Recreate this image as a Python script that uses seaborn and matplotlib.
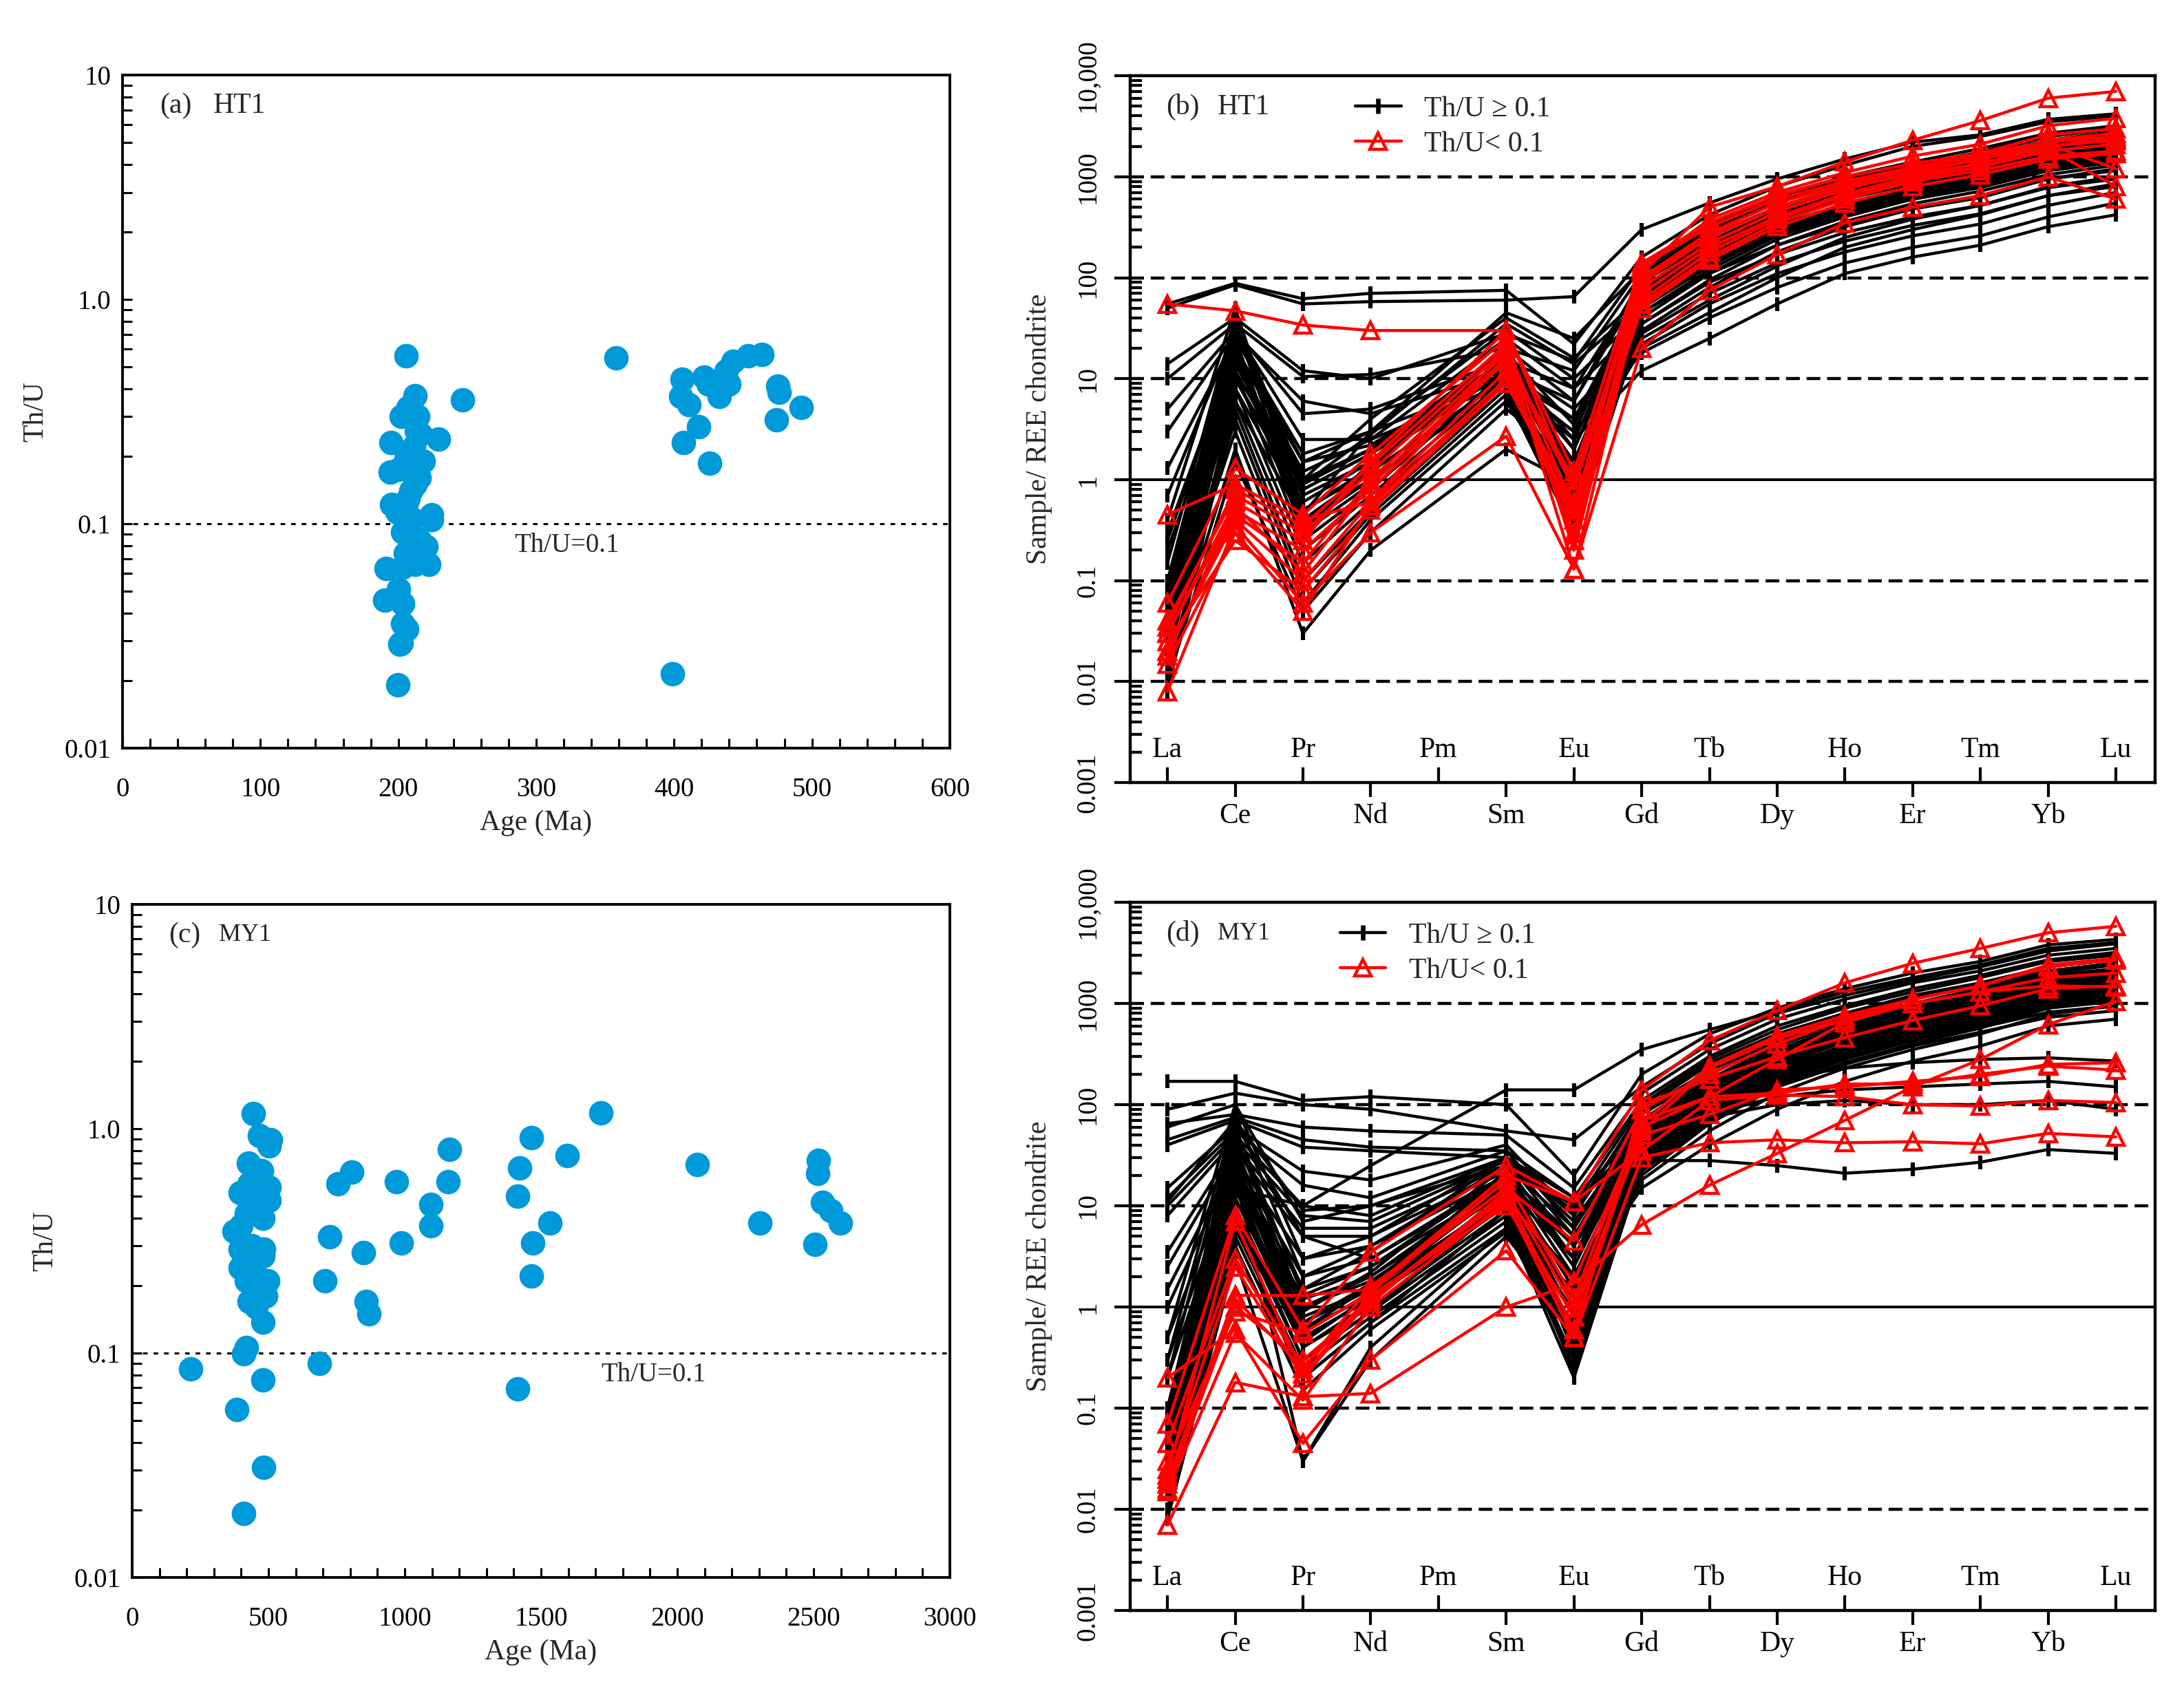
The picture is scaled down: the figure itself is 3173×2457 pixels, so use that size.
import numpy as np
import pandas as pd
import matplotlib
matplotlib.use("Agg")
import matplotlib.pyplot as plt
import seaborn as sns
from matplotlib.lines import Line2D
from matplotlib.ticker import FixedLocator, LogLocator, NullFormatter

# ---------------- data ----------------
# (a) HT1: U-Pb age vs Th/U
ht1_age = [205.5, 358, 246.5, 229, 212, 207, 202, 214, 209, 194.5, 213, 205.5, 208, 194,
           215, 200, 197, 195, 207, 209, 224, 224, 204, 199, 203, 208, 220, 205, 212, 222,
           191, 203, 200, 190, 203, 203, 206, 202, 201, 199.5, 399, 210, 212, 206, 210,
           215, 217, 211, 216, 218,
           406, 404.6, 411, 422, 425, 433, 440, 438, 442.6, 454, 464, 475, 476, 474, 492,
           418, 407, 426]
ht1_thu = [0.56, 0.55, 0.357, 0.239, 0.372, 0.33, 0.30, 0.30, 0.32, 0.23, 0.26, 0.195, 0.18,
           0.17, 0.16, 0.175, 0.12, 0.122, 0.13, 0.14, 0.11, 0.104, 0.11, 0.113, 0.092, 0.09,
           0.079, 0.074, 0.066, 0.066, 0.063, 0.064, 0.051, 0.0455, 0.044, 0.036, 0.034,
           0.0295, 0.029, 0.0192, 0.0214, 0.20, 0.15, 0.125, 0.105, 0.085, 0.07, 0.22, 0.25,
           0.19,
           0.44, 0.37, 0.34, 0.45, 0.42, 0.37, 0.42, 0.48, 0.53, 0.56, 0.57, 0.41, 0.385, 0.29,
           0.33, 0.27, 0.23, 0.186]

# (c) MY1: U-Pb age vs Th/U
my1_age = [215, 383, 409, 483, 479, 409, 420, 444, 467, 507, 502, 427, 474, 397, 430, 502,
           467, 502, 420, 479, 450, 374, 400, 397, 483, 440, 479, 397, 450, 420, 497, 455,
           430, 490, 455, 479,
           686, 707, 726, 754, 805, 848, 859, 869, 969, 988, 1095, 1095, 1160, 1165, 1413,
           1415, 1422, 1464, 1469, 1466, 1534, 1595, 1721, 2073, 2302, 2505, 2519, 2515,
           2533, 2564, 2599]
my1_thu = [0.085, 0.056, 0.0193, 0.031, 0.076, 0.099, 0.106, 1.17, 0.93, 0.89, 0.84, 0.70,
           0.65, 0.52, 0.57, 0.55, 0.50, 0.48, 0.42, 0.40, 0.45, 0.35, 0.37, 0.29, 0.29, 0.30,
           0.27, 0.24, 0.25, 0.21, 0.21, 0.20, 0.17, 0.18, 0.16, 0.137,
           0.090, 0.21, 0.33, 0.57, 0.64, 0.28, 0.17, 0.15, 0.58, 0.31, 0.46, 0.37, 0.58,
           0.81, 0.069, 0.50, 0.67, 0.91, 0.31, 0.22, 0.38, 0.76, 1.18, 0.69, 0.38, 0.305,
           0.72, 0.63, 0.47, 0.43, 0.38]

# REE chondrite-normalised patterns (Pm not measured)
ELEMENTS = ['La', 'Ce', 'Pr', 'Nd', 'Pm', 'Sm', 'Eu', 'Gd', 'Tb', 'Dy', 'Ho', 'Er', 'Tm', 'Yb', 'Lu']
MEASURED = [e for e in ELEMENTS if e != 'Pm']

#            La     Ce   Pr    Nd   Sm   Eu    Gd   Tb   Dy    Ho    Er    Tm    Yb    Lu
ht1_black = [
    [50,     85,  55,   58,  60,  65,   300, 550, 950, 1500, 2200, 2600, 3700, 4200],
    [55,     88,  62,   70,  75,  22,   160, 420, 800, 1300, 2000, 2500, 3500, 4000],
    [14,     40,  12,   10,  28,  15,   130, 330, 650, 1000, 1400, 1900, 2700, 3200],
    [10,     35,  10.5, 11,  20,  12,   110, 280, 560, 900,  1300, 1700, 2500, 3000],
    [5,      30,  4.5,  5,   15,  8,    90,  250, 500, 800,  1200, 1600, 2300, 2800],
    [3,      28,  6,    4.5, 12,  6,    80,  220, 450, 750,  1100, 1500, 2100, 2600],
    [1.3,    25,  1.8,  3,   10,  4,    70,  200, 420, 700,  1000, 1400, 2000, 2400],
    [0.7,    30,  2.5,  2.5, 9,   3,    65,  180, 380, 650,  950,  1300, 1900, 2300],
    [0.3,    20,  1.5,  2.2, 14,  2.5,  60,  170, 360, 600,  900,  1200, 1800, 2100],
    [0.2,    15,  1.0,  2.0, 18,  3.5,  75,  200, 400, 650,  950,  1250, 1800, 2200],
    [0.1,    12,  0.8,  1.8, 16,  2.0,  70,  190, 390, 640,  920,  1220, 1750, 2100],
    [0.08,   10,  0.6,  1.5, 14,  1.5,  65,  180, 370, 610,  880,  1180, 1700, 2000],
    [0.05,   45,  0.5,  1.3, 20,  1.2,  80,  210, 420, 700,  1000, 1350, 1900, 2300],
    [0.04,   35,  0.4,  1.2, 22,  1.0,  90,  230, 460, 740,  1050, 1400, 2000, 2400],
    [0.03,   25,  0.35, 1.0, 18,  0.8,  75,  190, 380, 600,  850,  1100, 1600, 1900],
    [0.02,   18,  0.3,  0.9, 15,  0.7,  60,  160, 330, 540,  780,  1000, 1500, 1800],
    [0.015,  12,  0.25, 0.8, 12,  0.6,  55,  150, 300, 500,  720,  950,  1400, 1700],
    [0.01,   8,   0.2,  0.7, 10,  0.5,  50,  130, 280, 470,  680,  900,  1300, 1600],
    [0.008,  6,   0.15, 0.6, 9,   0.4,  45,  120, 260, 440,  640,  850,  1250, 1500],
    [0.012,  5,   0.1,  0.5, 8,   0.35, 40,  110, 240, 400,  600,  800,  1150, 1400],
    [0.02,   4,   0.08, 0.45, 7,  0.3,  35,  95,  210, 360,  540,  720,  1050, 1300],
    [0.03,   3,   0.06, 0.4, 6,   0.5,  30,  80,  180, 320,  480,  650,  950,  1150],
    [0.015,  2,   0.03, 0.2, 2.0, 0.9,  25,  60,  130, 250,  380,  520,  780,  950],
    [0.01,   1.5, 0.05, 0.3, 5,   1.5,  20,  45,  100, 200,  300,  420,  650,  800],
    [0.02,   6,   0.4,  1.0, 9,   2.5,  12,  25,  55,  110,  160,  210,  320,  420],
    [0.03,   8,   0.5,  1.2, 10,  3,    18,  40,  80,  140,  200,  260,  400,  550],
    [0.04,   10,  0.7,  1.5, 12,  4,    22,  55,  110, 180,  260,  340,  520,  700],
    [0.05,   14,  0.9,  2.0, 14,  5,    28,  70,  140, 230,  330,  430,  650,  850],
    [0.06,   20,  1.2,  2.5, 25,  8,    35,  90,  170, 280,  400,  520,  800,  1000],
    [0.08,   28,  1.5,  3.0, 30,  10,   45,  110, 210, 340,  480,  620,  950,  1200],
    [0.1,    35,  0.9,  2.8, 35,  14,   55,  140, 260, 420,  600,  780,  1150, 1400],
    [0.15,   40,  1.0,  4.0, 40,  16,   65,  170, 320, 520,  750,  950,  1400, 1700],
    [0.25,   22,  0.3,  1.5, 20,  6,    100, 260, 500, 800,  1150, 1500, 2100, 2600],
    [0.4,    50,  0.45, 3.0, 45,  25,   120, 300, 600, 950,  1300, 1750, 2600, 3000],
    [0.05,   30,  0.8,  1.8, 12,  2,    60,  150, 300, 480,  700,  900,  1300, 1550],
    [0.02,   20,  0.5,  1.2, 10,  1.5,  50,  140, 280, 450,  650,  850,  1200, 1450],
]
ht1_red = [
    [55,     47,  34,   30,  30,  0.8,  120, 380, 700, 1100, 1600, 2100, 3200, 3800],
    [0.45,   0.9, 0.4,  0.6, 20,  0.3,  110, 500, 800, 1400, 2300, 3600, 6000, 7000],
    [0.06,   1.3, 0.45, 1.8, 25,  0.2,  90,  250, 500, 800,  1200, 1700, 2600, 3000],
    [0.04,   0.7, 0.3,  1.2, 20,  0.13, 80,  220, 450, 750,  1100, 1500, 2300, 2700],
    [0.03,   0.5, 0.2,  0.8, 15,  0.25, 70,  200, 400, 680,  1000, 1350, 2000, 2400],
    [0.02,   0.4, 0.1,  0.6, 12,  0.4,  60,  180, 380, 650,  950,  1250, 1800, 2100],
    [0.015,  0.3, 0.05, 0.55, 10, 0.6,  55,  160, 350, 600,  900,  1150, 1600, 1800],
    [0.025,  0.25, 0.08, 0.5, 9,  0.5,  50,  150, 320, 550,  800,  1050, 1500, 1700],
    [0.008,  0.35, 0.06, 0.3, 2.7, 0.13, 20, 75,  170, 350,  500,  650,  1000, 600],
    [0.03,   0.6, 0.25, 1.5, 30,  1.2,  140, 350, 650, 1000, 1350, 1700, 2200, 2500],
    [0.02,   0.45, 0.15, 1.0, 18, 0.8,  100, 280, 550, 850,  1150, 1500, 2000, 2300],
    [0.035,  0.8, 0.35, 1.4, 22,  0.5,  130, 320, 600, 900,  1250, 1600, 2100, 1200],
    [0.018,  0.55, 0.12, 0.9, 16, 1.0,  95,  260, 500, 780,  1050, 1350, 1900, 800],
]

my1_black = [
    [170,    170, 110,  120, 100, 20,   200, 500, 900, 1400, 2000, 2600, 3800, 4300],
    [90,     130, 100,  90,  55,  45,   150, 400, 800, 1200, 1700, 2300, 3300, 3900],
    [65,     80,  60,   55,  50,  15,   130, 350, 700, 1100, 1600, 2100, 3000, 3500],
    [45,     75,  45,   38,  35,  12,   110, 300, 600, 950,  1400, 1900, 2700, 3200],
    [40,     70,  38,   35,  30,  10,   100, 280, 550, 900,  1300, 1800, 2600, 3000],
    [15,     60,  22,   18,  40,  8,    90,  250, 500, 800,  1200, 1600, 2300, 2700],
    [12,     55,  16,   12,  35,  6,    80,  220, 450, 750,  1100, 1500, 2100, 2500],
    [10,     50,  10,   8,   30,  5,    70,  200, 420, 700,  1000, 1400, 2000, 2400],
    [8,      45,  8,    7,   28,  4,    65,  180, 380, 640,  950,  1300, 1900, 2200],
    [3.5,    40,  6,    6,   25,  3,    60,  170, 350, 600,  900,  1200, 1800, 2100],
    [2.5,    35,  5,    5,   22,  2.5,  55,  160, 330, 560,  850,  1150, 1700, 2000],
    [1.5,    30,  3,    4,   20,  2,    50,  150, 310, 530,  800,  1100, 1600, 1900],
    [1.0,    28,  2,    3,   18,  1.5,  45,  140, 290, 500,  760,  1050, 1500, 1800],
    [0.5,    25,  1.5,  2.5, 16,  1.2,  42,  130, 270, 470,  720,  1000, 1450, 1700],
    [0.3,    22,  1.2,  2,   15,  1.0,  40,  120, 250, 440,  680,  950,  1400, 1650],
    [0.2,    20,  1.0,  1.8, 14,  0.8,  38,  110, 240, 420,  650,  900,  1350, 1600],
    [0.1,    18,  0.8,  1.5, 12,  0.6,  35,  100, 220, 390,  600,  850,  1250, 1500],
    [0.08,   15,  0.6,  1.3, 11,  0.5,  33,  95,  210, 370,  570,  800,  1200, 1450],
    [0.05,   12,  0.5,  1.2, 10,  0.4,  30,  90,  200, 350,  540,  760,  1150, 1400],
    [0.04,   10,  0.4,  1.0, 9,   0.3,  28,  85,  190, 330,  510,  720,  1100, 1350],
    [0.03,   8,   0.3,  0.9, 8,   0.25, 26,  80,  180, 310,  480,  680,  1050, 1300],
    [0.02,   6,   0.25, 0.8, 7,   0.2,  24,  75,  170, 290,  450,  640,  1000, 1250],
    [0.015,  5,   0.2,  0.7, 6,   0.3,  22,  70,  160, 280,  430,  610,  950,  1200],
    [0.01,   4,   0.15, 0.6, 5.5, 0.5,  20,  65,  150, 260,  400,  570,  900,  1100],
    [0.02,   20,  0.03, 0.3, 5,   0.7,  18,  55,  130, 230,  350,  500,  780,  950],
    [0.03,   30,  0.5,  1.2, 12,  2,    28,  28,  25,  21,   23,   27,   36,   33],
    [0.05,   40,  0.7,  1.5, 15,  3,    40,  80,  120, 140,  150,  160,  170,  150],
    [0.08,   50,  1.0,  2.0, 18,  4,    45,  75,  100, 110,  100,  100,  110,  90],
    [0.1,    60,  1.3,  2.5, 20,  5,    60,  110, 180, 230,  260,  280,  290,  270],
    [0.04,   35,  0.9,  2.2, 25,  6,    70,  180, 350, 550,  800,  1050, 1400, 1600],
    [0.06,   45,  1.5,  3.5, 30,  8,    85,  220, 430, 680,  980,  1300, 1800, 2100],
    [0.03,   25,  0.6,  1.6, 22,  4,    60,  160, 320, 500,  720,  950,  1300, 1500],
    [0.02,   15,  0.4,  1.1, 14,  1.8,  35,  95,  200, 340,  500,  680,  950,  1100],
    [0.015,  10,  0.3,  0.9, 11,  1.2,  30,  80,  170, 290,  430,  580,  820,  950],
    [0.01,   7,   0.2,  0.7, 9,   0.9,  25,  70,  150, 250,  380,  520,  730,  850],
    [0.025,  18,  0.45, 1.3, 13,  0.22, 32,  90,  190, 320,  480,  650,  900,  1050],
    [0.04,   22,  0.55, 1.4, 16,  0.35, 38,  100, 210, 350,  520,  700,  960,  1100],
    [0.06,   28,  0.7,  1.7, 19,  0.45, 42,  110, 230, 380,  560,  740,  1000, 1150],
    [0.3,    80,  2,    4,   25,  10,   50,  130, 260, 420,  600,  800,  1100, 1250],
    [0.5,    100, 3,    5,   30,  12,   55,  140, 280, 450,  640,  850,  1150, 1300],
    [0.2,    65,  5,    3,   20,  3,    100, 260, 500, 800,  1150, 1500, 2100, 2500],
    [60,     100, 7,    10,  25,  9,    80,  200, 400, 650,  950,  1250, 1700, 2000],
    [11,     70,  9,    10,  30,  7,    60,  150, 300, 500,  720,  950,  1300, 1500],
    [0.05,   15,  10,   25,  140, 140,  350, 550, 850, 1300, 1800, 2400, 3500, 4000],
    [0.008,  3,   0.03, 0.4, 6,   1.5,  15,  40,  90,  170,  270,  380,  600,  700],
]
my1_red = [
    [0.007,  0.18, 0.13, 0.14, 1.0, 1.7, 6.5, 16,  33,  70,   150,  280,  620,  1050],
    [0.2,    0.6, 0.045, 0.3, 3.6, 0.5,  30,  42,  45,  42,   43,   41,   52,   48],
    [0.07,   8,   0.6,  3.5, 25,  11,   140, 430, 850, 1600, 2500, 3500, 5000, 5800],
    [0.045,  3,   0.25, 1.6, 15,  4.5,  90,  200, 400, 700,  1100, 1500, 2400, 2800],
    [0.025,  2.5, 0.2,  1.2, 12,  1.8,  60,  120, 280, 650,  1000, 1300, 1800, 2000],
    [0.018,  1.3, 1.3,  1.5, 20,  11,   35,  110, 125, 120,  100,  97,   110,  105],
    [0.016,  1.0, 0.3,  1.1, 14,  1.0,  50,  80,  140, 150,  170,  190,  250,  260],
    [0.03,   0.9, 0.55, 1.4, 18,  1.2,  70,  120, 130, 160,  160,  200,  240,  220],
    [0.02,   1.2, 0.25, 1.3, 10,  0.8,  55,  230, 450, 700,  1000, 1300, 1500, 1450],
    [0.015,  0.55, 0.12, 1.0, 11, 0.5,  100, 180, 300, 460,  680,  950,  1400, 1500],
    [0.022,  7,   0.22, 1.2, 13,  0.6,  65,  240, 480, 760,  1100, 1500, 2300, 2700],
]

POS = {el: i for i, el in enumerate(ELEMENTS)}
LOWER = ELEMENTS[1::2]   # Ce, Nd, Sm ... labelled below the axis
UPPER = ELEMENTS[0::2]   # La, Pr, Pm ... labelled inside the axis

BLUE = "#0099d9"


def to_long(rows):
    recs = []
    for i, row in enumerate(rows):
        for el, v in zip(MEASURED, row):
            recs.append((i, POS[el], v))
    return pd.DataFrame(recs, columns=["sample", "pos", "value"])


sns.set_style("ticks")
plt.rcParams["font.family"] = ["Liberation Serif", "DejaVu Serif"]
plt.rcParams["axes.edgecolor"] = "black"
plt.rcParams["xtick.color"] = "black"
plt.rcParams["ytick.color"] = "black"

fig = plt.figure(figsize=(15.865, 12.285), dpi=200)
ax_a = fig.add_axes([0.0561, 0.5576, 0.3788, 0.3980])
ax_c = fig.add_axes([0.0605, 0.0672, 0.3744, 0.3980])
ax_b = fig.add_axes([0.5175, 0.5372, 0.4693, 0.4180])
ax_d = fig.add_axes([0.5175, 0.0476, 0.4693, 0.4188])


def age_panel(ax, age, thu, xmax, major, minor, tag, site, site_x, note_x):
    ax.axhline(0.1, color="black", lw=1.1, ls=(0, (2.2, 2.8)), zorder=1)
    sns.scatterplot(x=age, y=thu, ax=ax, color=BLUE, s=165, linewidth=0, zorder=3)
    ax.set_yscale("log")
    ax.set_ylim(0.01, 10)
    ax.set_xlim(0, xmax)
    ax.set_yticks([0.01, 0.1, 1, 10], ["0.01", "0.1", "1.0", "10"])
    ax.yaxis.set_minor_locator(LogLocator(base=10, subs=np.arange(2, 10), numticks=10))
    ax.yaxis.set_minor_formatter(NullFormatter())
    ax.set_xticks(np.arange(0, xmax + 1, major))
    ax.xaxis.set_minor_locator(FixedLocator(np.arange(0, xmax + 1, minor)))
    ax.tick_params(which="both", direction="in", top=False, right=False,
                   width=1.1, length=5, labelsize=14)
    ax.tick_params(axis="x", pad=15)
    ax.tick_params(axis="y", pad=6)
    ax.set_xlabel("Age (Ma)", fontsize=15, labelpad=4)
    ax.set_ylabel("Th/U", fontsize=15, labelpad=8)
    for sp in ax.spines.values():
        sp.set_linewidth(1.4)
    ax.text(0.045, 0.954, tag, transform=ax.transAxes, fontsize=15, va="center")
    ax.text(site_x, 0.954, site, transform=ax.transAxes, fontsize=15 if site == "HT1" else 13,
            va="center", family=["Liberation Sans Narrow", "Liberation Serif"])
    ax.text(note_x, 0.08, "Th/U=0.1", fontsize=14, va="center")


def ree_panel(ax, black_rows, red_rows, tag, site, site_x, leg_x):
    for v in [0.01, 0.1, 10, 100, 1000]:
        ax.axhline(v, color="black", lw=1.6, ls=(0, (4.5, 2.2)), zorder=1)
    ax.axhline(1, color="black", lw=1.4, zorder=1)
    sns.lineplot(data=to_long(black_rows), x="pos", y="value", units="sample",
                 estimator=None, color="black", linewidth=1.6, marker="|",
                 markersize=7, markeredgewidth=2.2, markeredgecolor="black",
                 ax=ax, legend=False, zorder=2)
    sns.lineplot(data=to_long(red_rows), x="pos", y="value", units="sample",
                 estimator=None, color="red", linewidth=1.6, marker="^",
                 markersize=8.5, markeredgewidth=1.6, markeredgecolor="red",
                 markerfacecolor="none", ax=ax, legend=False, zorder=3)
    ax.set_yscale("log")
    ax.set_ylim(1e-3, 1e4)
    ax.set_xlim(-0.55, 14.58)
    ax.set_yticks([1e-3, 1e-2, 1e-1, 1, 10, 100, 1000, 1e4])
    ax.set_yticklabels(["0.001", "0.01", "0.1", "1", "10", "100", "1000", "10,000"],
                       rotation=90, va="center")
    ax.yaxis.set_minor_locator(LogLocator(base=10, subs=np.arange(2, 10), numticks=20))
    ax.yaxis.set_minor_formatter(NullFormatter())
    ax.tick_params(axis="y", which="major", direction="out", length=8.4, width=1.5,
                   pad=7, labelsize=14)
    ax.tick_params(axis="y", which="minor", direction="in", length=6, width=1.5)
    ax.set_xticks([POS[e] for e in LOWER], LOWER)
    ax.set_xticks([POS[e] for e in UPPER], UPPER, minor=True)
    ax.tick_params(axis="x", which="major", direction="out", length=7.5, width=1.5,
                   pad=3, labelsize=15)
    ax.tick_params(axis="x", which="minor", direction="in", length=8, width=1.5,
                   pad=-24, labelsize=15)
    ax.tick_params(which="both", top=False, right=False)
    ax.set_xlabel("")
    ax.set_ylabel("Sample/ REE chondrite", fontsize=15, labelpad=12)
    for sp in ax.spines.values():
        sp.set_linewidth(1.6)
    ax.text(0.035, 0.956, tag, transform=ax.transAxes, fontsize=15, va="center")
    ax.text(site_x, 0.956, site, transform=ax.transAxes, fontsize=15 if site == "HT1" else 13,
            va="center", family=["Liberation Sans Narrow", "Liberation Serif"])
    handles = [Line2D([], [], color="black", lw=1.6, marker="|", markersize=8,
                      markeredgewidth=2.4),
               Line2D([], [], color="red", lw=1.6, marker="^", markersize=8.5,
                      markerfacecolor="none", markeredgewidth=1.6)]
    ax.legend(handles, ["Th/U \u2265 0.1", "Th/U< 0.1"], loc="upper left",
              bbox_to_anchor=(leg_x, 1.0), frameon=False, fontsize=15,
              handlelength=1.6, handletextpad=0.8, labelspacing=0.3, borderaxespad=0.3)


age_panel(ax_a, ht1_age, ht1_thu, 600, 100, 20, "(a)", "HT1", 0.11, 284)
age_panel(ax_c, my1_age, my1_thu, 3000, 500, 100, "(c)", "MY1", 0.106, 1720)
ree_panel(ax_b, ht1_black, ht1_red, "(b)", "HT1", 0.085, 0.2)
ree_panel(ax_d, my1_black, my1_red, "(d)", "MY1", 0.085, 0.185)

fig.savefig("out.png", dpi=200)
